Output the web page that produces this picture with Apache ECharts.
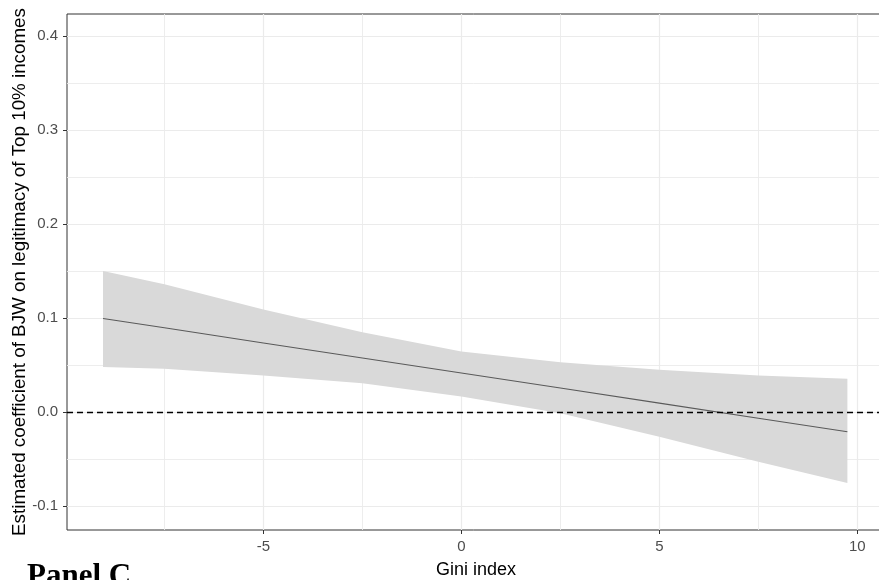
<!DOCTYPE html>
<html>
<head>
<meta charset="utf-8">
<script src="https://cdn.jsdelivr.net/npm/echarts@6/dist/echarts.min.js"></script>
<style>
    html, body { margin: 0; padding: 0; background: #fff; }
    #chart { width: 879px; height: 580px; }
</style>
</head>
<body>
<div id="chart"></div>
<script>
// values
var gini = [-9.05, -7.5, -5, -2.5, 0, 2.5, 5, 7.5, 9.75];
var coef = [0.0995, 0.0896, 0.0735, 0.0575, 0.0415, 0.0255, 0.0095, -0.0066, -0.021];
var lower = [0.0478, 0.046, 0.0388, 0.0307, 0.0164, -0.0014, -0.0264, -0.053, -0.0756];
var upper = [0.150, 0.1358, 0.109, 0.0848, 0.0645, 0.053, 0.0449, 0.0388, 0.0353];

var xMajor = [-5, 0, 5, 10];
var xMinor = [-7.5, -2.5, 2.5, 7.5];
var yMajor = [-0.1, 0, 0.1, 0.2, 0.3, 0.4];
var yMinor = [-0.05, 0.05, 0.15, 0.25, 0.35];

var chart = echarts.init(document.getElementById('chart'));

function pairs(xs, ys) {
    var out = [];
    for (var i = 0; i < xs.length; i++) out.push([xs[i], ys[i]]);
    return out;
}

// confidence band as one polygon: upper edge left->right, lower edge back
var bandData = [];
for (var i = 0; i < gini.length; i++) bandData.push([gini[i], upper[i], lower[i]]);

var font = 'Liberation Sans, Arial, sans-serif';
var xRange = { min: -9.96, max: 10.7 };
var yRange = { min: -0.1255, max: 0.4234 };

var option = {
    animation: false,
    backgroundColor: '#fff',
    grid: {
        left: 67, top: 14, right: -6, bottom: 50,
        outerBoundsMode: 'none',
        containLabel: false,
        show: true,
        borderColor: '#333',
        borderWidth: 1
    },
    xAxis: [
        {
            type: 'value',
            min: xRange.min, max: xRange.max,
            name: 'Gini index',
            nameLocation: 'middle',
            nameGap: 31,
            nameMoveOverlap: false,
            nameTextStyle: { color: '#000', fontSize: 18, fontFamily: font },
            axisLine: { show: false, onZero: false },
            axisTick: { show: true, length: 4, customValues: xMajor, lineStyle: { color: '#333', width: 1 } },
            axisLabel: { customValues: xMajor, color: '#4d4d4d', fontSize: 15, fontFamily: font, margin: 9 },
            splitLine: { show: true, lineStyle: { color: '#ebebeb', width: 1.2 } }
        },
        {
            // minor grid only
            type: 'value',
            min: xRange.min, max: xRange.max,
            axisLine: { show: false, onZero: false },
            axisTick: { show: false, customValues: xMinor },
            axisLabel: { show: false, customValues: xMinor },
            splitLine: { show: true, lineStyle: { color: '#ebebeb', width: 0.9 } }
        }
    ],
    yAxis: [
        {
            type: 'value',
            min: yRange.min, max: yRange.max,
            name: 'Estimated coefficient of BJW on legitimacy of Top 10% incomes',
            nameLocation: 'middle',
            nameGap: 38,
            nameMoveOverlap: false,
            nameTextStyle: { color: '#000', fontSize: 18.8, fontFamily: font },
            axisLine: { show: false, onZero: false },
            axisTick: { show: true, length: 4, customValues: yMajor, lineStyle: { color: '#333', width: 1 } },
            axisLabel: {
                customValues: yMajor, color: '#4d4d4d', fontSize: 15, fontFamily: font, margin: 9,
                formatter: function (v) { return v.toFixed(1); }
            },
            splitLine: { show: true, lineStyle: { color: '#ebebeb', width: 1.2 } }
        },
        {
            type: 'value',
            min: yRange.min, max: yRange.max,
            axisLine: { show: false, onZero: false },
            axisTick: { show: false, customValues: yMinor },
            axisLabel: { show: false, customValues: yMinor },
            splitLine: { show: true, lineStyle: { color: '#ebebeb', width: 0.9 } }
        }
    ],
    series: [
        {
            name: 'band',
            type: 'custom',
            silent: true,
            data: bandData,
            encode: { x: 0, y: [1, 2] },
            renderItem: function (params, api) {
                if (params.dataIndex !== 0) return;
                var pts = [];
                for (var i = 0; i < bandData.length; i++) pts.push(api.coord([bandData[i][0], bandData[i][1]]));
                for (var j = bandData.length - 1; j >= 0; j--) pts.push(api.coord([bandData[j][0], bandData[j][2]]));
                return {
                    type: 'polygon',
                    shape: { points: pts },
                    style: { fill: '#d9d9d9', stroke: null }
                };
            }
        },
        {
            name: 'coef',
            type: 'line',
            symbol: 'none',
            lineStyle: { color: '#5a5a5a', width: 1.1 },
            data: pairs(gini, coef),
            silent: true,
            z: 3,
            markLine: {
                silent: true,
                symbol: 'none',
                label: { show: false },
                lineStyle: { color: '#000', type: [6, 4], width: 1.3 },
                data: [{ yAxis: 0 }]
            }
        }
    ],
    graphic: [
        {
            type: 'text',
            left: 27,
            top: 561,
            style: {
                text: 'Panel C',
                font: 'bold 31px "Liberation Serif", "Times New Roman", serif',
                fill: '#000'
            }
        }
    ]
};

chart.setOption(option);
</script>
</body>
</html>
